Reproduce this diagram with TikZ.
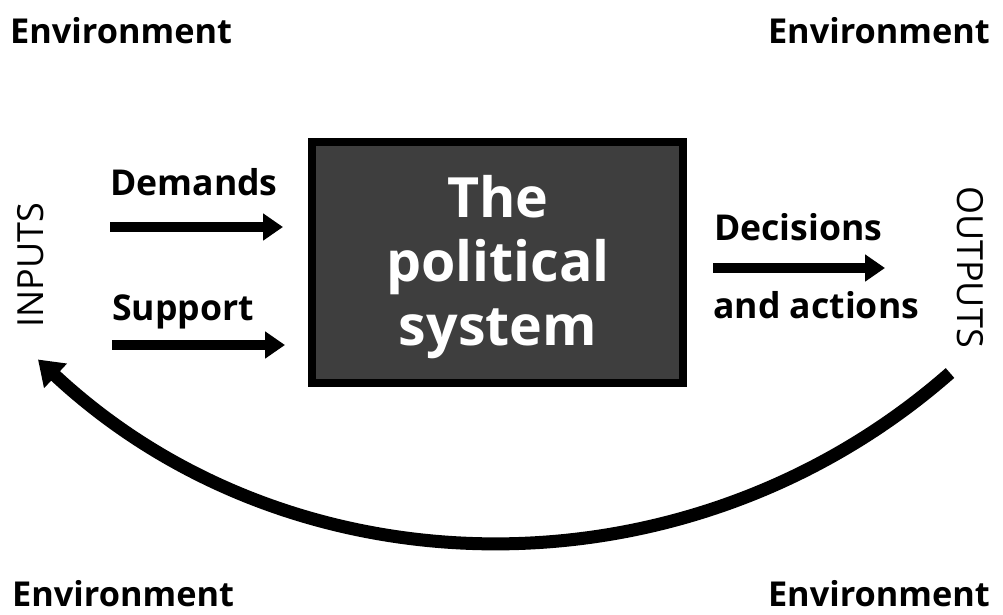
\documentclass[tikz,border=0pt]{standalone}
\usepackage{fontspec}
\setmainfont{Open Sans}
\usetikzlibrary{arrows.meta}
\definecolor{boxfill}{RGB}{62,62,62}
\begin{document}
\begin{tikzpicture}[x=1pt,y=-1pt,
  env/.style={inner sep=0pt, font=\bfseries\fontsize{34.3}{40}\selectfont},
  lbl/.style={inner sep=0pt, font=\bfseries\fontsize{35.6}{40}\selectfont},
  side/.style={inner sep=0pt, font=\fontsize{36}{42}\selectfont},
  flow/.style={line width=10pt, -{Triangle[length=20pt,width=26pt]}},
  feedback/.style={line width=13pt, -{Triangle[length=24pt,width=32pt]}},
  sysbox/.style={draw=black, line width=8pt, fill=boxfill, minimum width=371pt, minimum height=241pt, inner sep=0pt}]
\useasboundingbox (0,0) rectangle (1003,614);
% environment labels
\node[env, anchor=base west] (envtl) at (10,43) {Environment};
\node[env, anchor=base east] (envtr) at (990,43) {Environment};
\node[env, anchor=base west] (envbl) at (12,606) {Environment};
\node[env, anchor=base east] (envbr) at (990,606) {Environment};
% system box
\node[sysbox] (sys) at (497,262) {};
\node[inner sep=0pt, text=white, align=center, anchor=base,
      font=\bfseries\fontsize{55.5}{64}\selectfont] (systext) at (498,345) {The\\political\\system};
% inputs / outputs
\node[side, rotate=90, anchor=base] (inputs) at (43,265) {INPUTS};
\node[side, rotate=-90, anchor=base] (outputs) at (957,267) {OUTPUTS};
% labels
\node[lbl, anchor=base west] (dem) at (110,195) {Demands};
\node[lbl, anchor=base west] (sup) at (112,320) {Support};
\node[lbl, anchor=base west] (dec) at (714,240) {Decisions};
\node[lbl, anchor=base west] (act) at (713,318) {and actions};
% arrow coordinates
\coordinate (demA) at (110,227);
\coordinate (demB) at (283,227);
\coordinate (supA) at (112,345);
\coordinate (supB) at (285,345);
\coordinate (decA) at (713,268);
\coordinate (decB) at (885,268);
\draw[flow] (demA) -- (demB);
\draw[flow] (supA) -- (supB);
\draw[flow] (decA) -- (decB);
% feedback arc
\coordinate (fbStart) at (950,373);
\draw[feedback] (fbStart) arc[start angle=48.7, end angle=133, radius=679.6];
\end{tikzpicture}
\end{document}
